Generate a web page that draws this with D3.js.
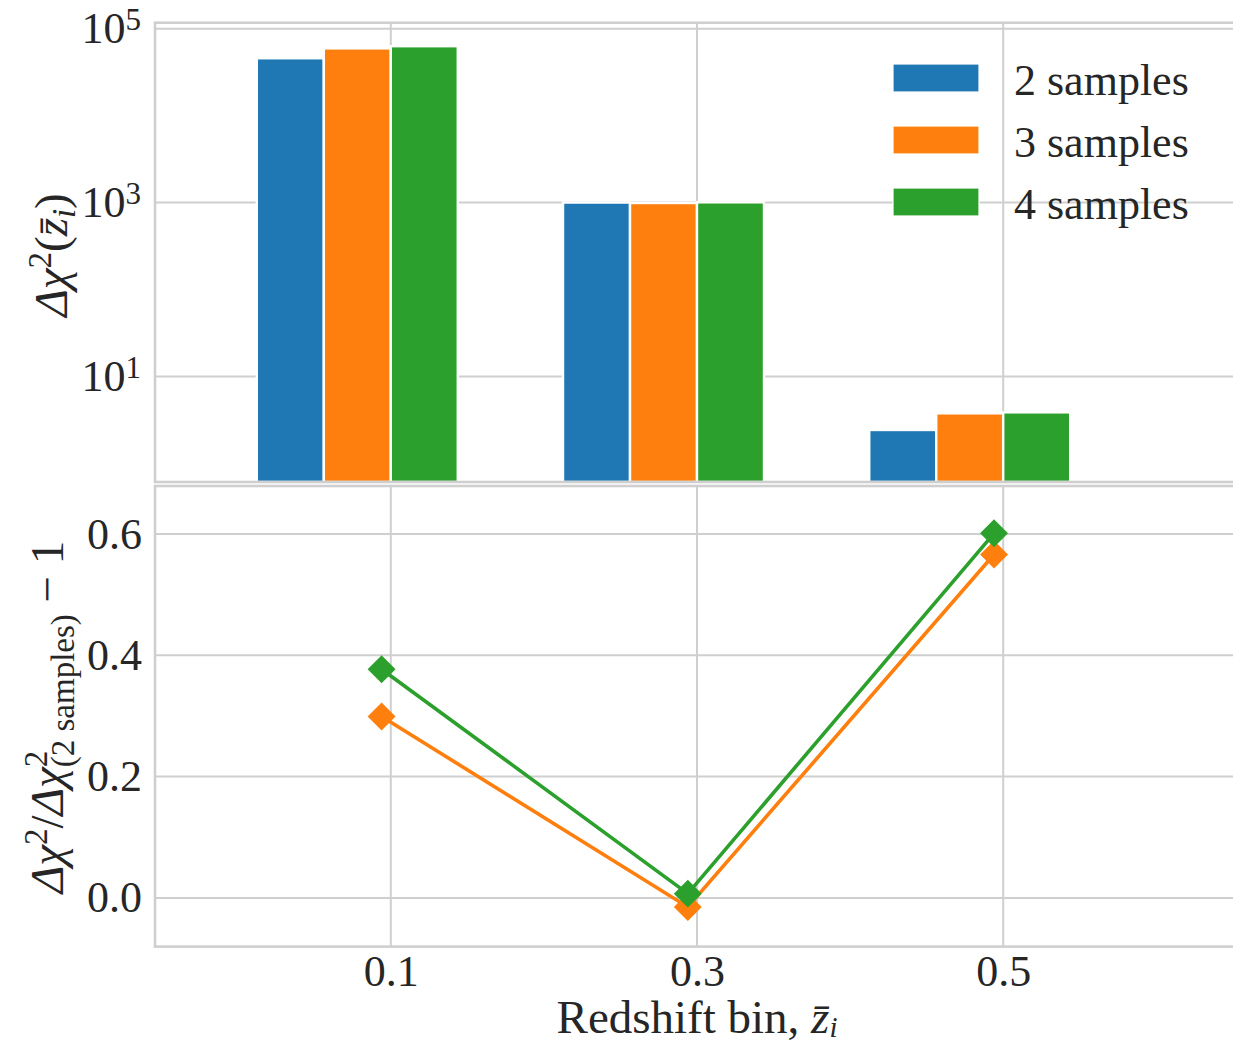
<!DOCTYPE html>
<html>
<head>
<meta charset="utf-8">
<script src="https://cdn.jsdelivr.net/npm/d3@7"></script>
<style>
  body { margin: 0; background: #fff; }
  text { font-family: "Liberation Serif", serif; fill: #262626; }
</style>
</head>
<body>
<svg id="chart"></svg>
<script>
const width = 1233, height = 1045;

// redshift bins and values
const bins = [0.1, 0.3, 0.5];
const binCentres = [0.094, 0.294, 0.494];
const seriesNames = ["2 samples", "3 samples", "4 samples"];
const chi2Two = [45700, 1000, 2.42];
const chi2Three = [59400, 988, 3.76];
const chi2Four = [62900, 1006, 3.86];
const ratioThree = [0.299, -0.015, 0.566];
const ratioFour = [0.377, 0.007, 0.601];
const logTicks = [10, 1000, 100000];
const logExponents = ["1", "3", "5"];
const ratioTicks = [0.0, 0.2, 0.4, 0.6];

const colors = ["#1f77b4", "#ff7f0e", "#2ca02c"];
const gridColor = "#cfcfcf";
const fontSize = 44;
const labelSize = 47;
const smallSize = 31;

const svg = d3.select("#chart").attr("width", width).attr("height", height);

const left = 155, right = 1239;
const topPanel = {top: 22.7, bottom: 482};
const botPanel = {top: 486, bottom: 946.6};

const x = d3.scaleLinear().domain([-0.054, 0.654]).range([left, right]);
const yTop = d3.scaleLog().domain([0.61, Math.pow(10, 5.069)]).range([topPanel.bottom, topPanel.top]);
const yBot = d3.scaleLinear().domain([-0.0803, 0.679]).range([botPanel.bottom, botPanel.top]);

// ---------- grids ----------
function vGrid(panel) {
    svg.append("g").selectAll("line")
        .data(bins)
        .enter().append("line")
        .attr("x1", d => x(d)).attr("x2", d => x(d))
        .attr("y1", panel.top).attr("y2", panel.bottom)
        .attr("stroke", gridColor).attr("stroke-width", 2);
}
vGrid(topPanel);
vGrid(botPanel);

svg.append("g").selectAll("line")
    .data(logTicks)
    .enter().append("line")
    .attr("x1", left).attr("x2", right)
    .attr("y1", d => yTop(d)).attr("y2", d => yTop(d))
    .attr("stroke", gridColor).attr("stroke-width", 2);

svg.append("g").selectAll("line")
    .data(ratioTicks)
    .enter().append("line")
    .attr("x1", left).attr("x2", right)
    .attr("y1", d => yBot(d)).attr("y2", d => yBot(d))
    .attr("stroke", gridColor).attr("stroke-width", 2);

// ---------- bars ----------
const barW = 0.04375;
const barSeries = [chi2Two, chi2Three, chi2Four];
barSeries.forEach((vals, s) => {
    svg.append("g").selectAll("rect")
        .data(vals)
        .enter().append("rect")
        .attr("x", (d, i) => x(bins[i] - 2 * barW + s * barW))
        .attr("width", x(barW) - x(0))
        .attr("y", d => yTop(d))
        .attr("height", d => topPanel.bottom - yTop(d))
        .attr("fill", colors[s])
        .attr("stroke", "#fff")
        .attr("stroke-width", 2.4);
});

// ---------- ratio lines ----------
const line = d3.line()
    .x((d, i) => x(binCentres[i]))
    .y(d => yBot(d));
const diamond = d3.symbol().type(d3.symbolSquare).size(390);

[[ratioThree, colors[1]], [ratioFour, colors[2]]].forEach(([vals, c]) => {
    svg.append("path")
        .datum(vals)
        .attr("d", line)
        .attr("fill", "none")
        .attr("stroke", c)
        .attr("stroke-width", 3.6);
    svg.append("g").selectAll("path")
        .data(vals)
        .enter().append("path")
        .attr("d", diamond)
        .attr("transform", (d, i) => `translate(${x(binCentres[i])},${yBot(d)}) rotate(45)`)
        .attr("fill", c);
});

// ---------- spines ----------
[topPanel, botPanel].forEach(p => {
    svg.append("rect")
        .attr("x", left).attr("y", p.top)
        .attr("width", right - left).attr("height", p.bottom - p.top)
        .attr("fill", "none")
        .attr("stroke", gridColor)
        .attr("stroke-width", 2.6);
});

// ---------- axes ----------
const yTopAxis = svg.append("g")
    .attr("transform", `translate(${left},0)`)
    .call(d3.axisLeft(yTop).tickValues(logTicks).tickFormat("").tickSize(0).tickPadding(14));
yTopAxis.select(".domain").remove();
yTopAxis.selectAll("text")
    .attr("font-size", fontSize)
    .attr("font-family", "Liberation Serif")
    .each(function(d, i) {
        const t = d3.select(this);
        t.text("10");
        t.append("tspan").attr("font-size", smallSize).attr("dy", -13).text(logExponents[i]);
    });

const yBotAxis = svg.append("g")
    .attr("transform", `translate(${left},0)`)
    .call(d3.axisLeft(yBot).tickValues(ratioTicks).tickFormat(d3.format(".1f")).tickSize(0).tickPadding(13));
yBotAxis.select(".domain").remove();
yBotAxis.selectAll("text").attr("font-size", fontSize).attr("font-family", "Liberation Serif");

const xAxis = svg.append("g")
    .attr("transform", `translate(0,${botPanel.bottom})`)
    .call(d3.axisBottom(x).tickValues(bins).tickFormat(d3.format(".1f")).tickSize(0).tickPadding(8));
xAxis.select(".domain").remove();
xAxis.selectAll("text").attr("font-size", fontSize).attr("font-family", "Liberation Serif");

// ---------- labels ----------
function richText(g, parts) {
    const t = g.append("text").attr("font-size", labelSize).attr("text-anchor", "middle");
    parts.forEach(p => {
        const s = t.append("tspan").text(p.t);
        if (p.it) s.attr("font-style", "italic");
        if (p.fs) s.attr("font-size", p.fs);
        if (p.dy) s.attr("dy", p.dy);
        if (p.dx) s.attr("dx", p.dx);
    });
    return t;
}

richText(svg.append("g").attr("transform", "translate(67,255) rotate(-90)"), [
    {t: "Δχ", it: true},
    {t: "2", fs: smallSize + 2, dy: -16},
    {t: "(", dy: 16},
    {t: "z\u0304", it: true},
    {t: "i", it: true, fs: smallSize + 2, dy: 8},
    {t: ")", dy: -8}
]);

richText(svg.append("g").attr("transform", "translate(63,717) rotate(-90)"), [
    {t: "Δχ", it: true},
    {t: "2", fs: smallSize + 2, dy: -16},
    {t: "/", dy: 16},
    {t: "Δχ", it: true},
    {t: "2", fs: smallSize + 2, dy: -16},
    {t: "(2 samples)", fs: smallSize + 2, dy: 27, dx: -16.5},
    {t: " − 1", dy: -11}
]);

richText(svg.append("g").attr("transform", "translate(697,1033)"), [
    {t: "Redshift bin, "},
    {t: "z\u0304", it: true},
    {t: "i", it: true, fs: smallSize - 2, dy: 4}
]);

// ---------- legend ----------
const legend = svg.append("g").attr("transform", "translate(893,64)");
seriesNames.forEach((name, i) => {
    legend.append("rect")
        .attr("x", 0).attr("y", i * 62)
        .attr("width", 86).attr("height", 28)
        .attr("fill", colors[i])
        .attr("stroke", "#fff").attr("stroke-width", 1.2);
    legend.append("text")
        .attr("x", 121).attr("y", i * 62 + 31)
        .attr("font-size", fontSize)
        .text(name);
});
</script>
</body>
</html>
